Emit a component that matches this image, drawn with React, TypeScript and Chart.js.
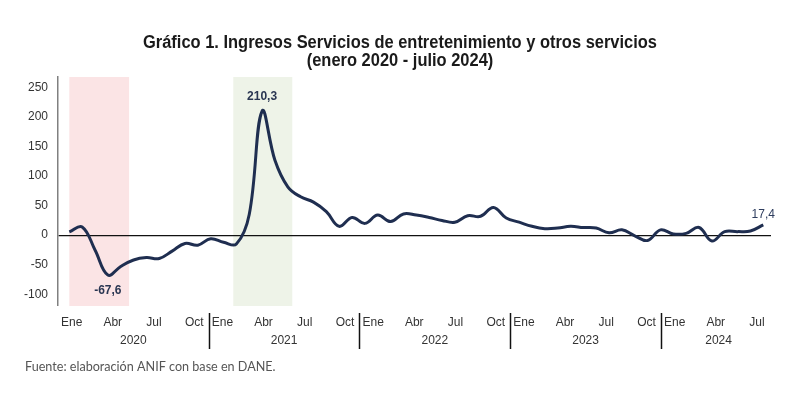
import React, { useEffect, useRef } from "react";
import { Chart, registerables } from "chart.js";

Chart.register(...registerables);

// ---------- DATA ----------
const years = ["2020", "2021", "2022", "2023", "2024"];
const monthNames = ["Ene", "Feb", "Mar", "Abr", "May", "Jun", "Jul", "Ago", "Sep", "Oct", "Nov", "Dic"];
const tickMonths = ["Ene", "Abr", "Jul", "Oct"];
const lastYearTickMonths = ["Ene", "Abr", "Jul"];

// Monthly variation (%), Jan 2020 - Jul 2024
const values = [
  5.6, 14, -25, -67.6, -53, -42, -38, -39.5, -27, -14, -17, -6,
  -12, -15, 35, 210.3, 127, 82, 65, 56, 40, 15, 30, 20,
  34, 23, 36, 34, 30, 25, 22, 33, 32, 47, 29, 22,
  15, 11, 12, 15, 13, 12, 4, 9, -1, -9, 9, 2,
  3, 13, -10, 6, 6, 7, 17.4,
];

const yTicks = [-100, -50, 0, 50, 100, 150, 200, 250];

const titleLines = [
  "Gráfico 1. Ingresos Servicios de entretenimiento y otros servicios",
  "(enero 2020 - julio 2024)",
];
const footerText = "Fuente: elaboración ANIF con base en DANE.";

// labelled points: index in values, placement, bold
const labelledIdx = [3, 15, 54];
const labelledPos = ["below", "above", "above"];
const labelledBold = [true, true, false];

// shaded periods (month index ranges)
const shadeFrom = [0, 12.76];
const shadeTo = [4.65, 17.35];
const shadeColors = ["#fbe4e5", "#eef3e8"];

// ---------- LAYOUT CONSTANTS ----------
const W = 805;
const H = 393;
const FONT = '"Liberation Sans", Arial, sans-serif';
const X_MIN = -0.88;
const X_MAX = 54.6;
const YEAR_SPAN = 11.73;
const MONTH_OFFS = [1.07, 4.26, 7.47, 10.61];
const LAST_END = 55.0;
const LINE_COLOR = "#1f2e50";
const TITLE_WIDTH = 514;

const periods: string[] = [];
years.forEach((y) => monthNames.forEach((m) => periods.push(m + " " + y)));
const labels = periods.slice(0, values.length);

const bandStart = (k: number) => X_MIN + YEAR_SPAN * k;

const xTickPos: number[] = [];
const xTickText: string[] = [];
years.forEach((_, k) => {
  const list = k === years.length - 1 ? lastYearTickMonths : tickMonths;
  list.forEach((m, j) => {
    xTickPos.push(bandStart(k) + MONTH_OFFS[j]);
    xTickText.push(m);
  });
});

const fmt = (v: number) => v.toFixed(1).replace(".", ",");

const decor = {
  id: "decor",
  beforeDraw(chart: any) {
    const { ctx, chartArea } = chart;
    const xs = chart.scales.x;
    ctx.save();
    shadeFrom.forEach((a, i) => {
      const x1 = xs.getPixelForValue(a);
      const x2 = xs.getPixelForValue(shadeTo[i]);
      ctx.fillStyle = shadeColors[i];
      ctx.fillRect(x1, chartArea.top, x2 - x1, chartArea.bottom - chartArea.top);
    });
    // title (condensed like Arial Narrow)
    ctx.font = "bold 18px " + FONT;
    ctx.fillStyle = "#1a1a1a";
    ctx.textAlign = "center";
    ctx.textBaseline = "middle";
    const sx = TITLE_WIDTH / ctx.measureText(titleLines[0]).width;
    titleLines.forEach((t, i) => {
      ctx.save();
      ctx.translate(400, 43 + i * 18);
      ctx.scale(sx, 1);
      ctx.fillText(t, 0, 0);
      ctx.restore();
    });
    ctx.restore();
  },
  afterDatasetsDraw(chart: any) {
    const { ctx } = chart;
    const xs = chart.scales.x;
    const ys = chart.scales.y;
    ctx.save();
    ctx.textAlign = "center";
    ctx.textBaseline = "middle";
    labelledIdx.forEach((idx, i) => {
      const v = values[idx];
      const px = xs.getPixelForValue(idx);
      const py = ys.getPixelForValue(v);
      ctx.font = (labelledBold[i] ? "bold " : "") + "12px " + FONT;
      ctx.fillStyle = labelledBold[i] ? "#2a3652" : "#2e3d5e";
      const dy = labelledPos[i] === "below" ? 16 : labelledBold[i] ? -14 : -10;
      ctx.fillText(fmt(v), px, py + dy);
    });
    ctx.restore();
  },
  afterDraw(chart: any) {
    const { ctx, chartArea } = chart;
    const xs = chart.scales.x;
    ctx.save();
    // year separators
    ctx.strokeStyle = "#111";
    ctx.lineWidth = 1.5;
    for (let k = 1; k < years.length; k++) {
      const px = Math.round(xs.getPixelForValue(bandStart(k))) + 0.5;
      ctx.beginPath();
      ctx.moveTo(px, chartArea.bottom + 7);
      ctx.lineTo(px, chartArea.bottom + 43);
      ctx.stroke();
    }
    // year labels
    ctx.font = "12px " + FONT;
    ctx.fillStyle = "#333";
    ctx.textAlign = "center";
    ctx.textBaseline = "middle";
    years.forEach((y, k) => {
      const a = bandStart(k);
      const b = k === years.length - 1 ? LAST_END : bandStart(k + 1);
      const px = xs.getPixelForValue((a + b) / 2);
      ctx.fillText(y, px, chartArea.bottom + 35);
    });
    // footer
    ctx.font = '12.6px Lato, "Open Sans", sans-serif';
    ctx.fillStyle = "#555";
    ctx.textAlign = "left";
    ctx.fillText(footerText, 25, 367);
    ctx.restore();
  },
};

export default function App() {
  const ref = useRef<HTMLCanvasElement>(null);
  useEffect(() => {
    if (!ref.current) return;
    const chart = new Chart(ref.current, {
      type: "line",
      data: {
        labels,
        datasets: [
          {
            label: "Ingresos",
            data: values.map((v, i) => ({ x: i, y: v })),
            borderColor: LINE_COLOR,
            borderWidth: 3,
            pointRadius: 0,
            tension: 0.4,
            fill: false,
          },
        ],
      },
      options: {
        animation: false,
        responsive: false,
        devicePixelRatio: 1,
        layout: { padding: { left: 0, right: 34, top: 77, bottom: 0 } },
        plugins: {
          legend: { display: false },
          tooltip: { enabled: false },
          title: { display: false },
        },
        scales: {
          x: {
            type: "linear",
            min: X_MIN,
            max: X_MAX,
            afterFit: (s: any) => {
              s.height = 87;
            },
            afterBuildTicks: (s: any) => {
              s.ticks = xTickPos.map((v) => ({ value: v }));
            },
            grid: { display: false, drawTicks: false },
            border: { display: false },
            ticks: {
              autoSkip: false,
              maxRotation: 0,
              padding: 9,
              color: "#333",
              font: { family: FONT, size: 12 },
              callback: (_v: any, i: number) => xTickText[i],
            },
          },
          y: {
            min: -120,
            max: 268,
            afterFit: (s: any) => {
              s.width = 58;
            },
            afterBuildTicks: (s: any) => {
              s.ticks = yTicks.map((v) => ({ value: v }));
            },
            grid: {
              drawTicks: false,
              color: (c: any) => (c.tick && c.tick.value === 0 ? "#111" : "rgba(0,0,0,0)"),
              lineWidth: (c: any) => (c.tick && c.tick.value === 0 ? 1.3 : 0),
            },
            border: { display: true, color: "#808080", width: 1.5 },
            ticks: {
              padding: 10,
              color: "#333",
              font: { family: FONT, size: 12 },
              callback: (v: any) => String(v),
            },
          },
        },
      },
      plugins: [decor],
    } as any);
    return () => chart.destroy();
  }, []);
  return (
    <div style={{ position: "fixed", left: 0, top: 0, width: W, height: H, background: "#fff" }}>
      <canvas ref={ref} width={W} height={H} style={{ width: W, height: H, display: "block" }} />
    </div>
  );
}
